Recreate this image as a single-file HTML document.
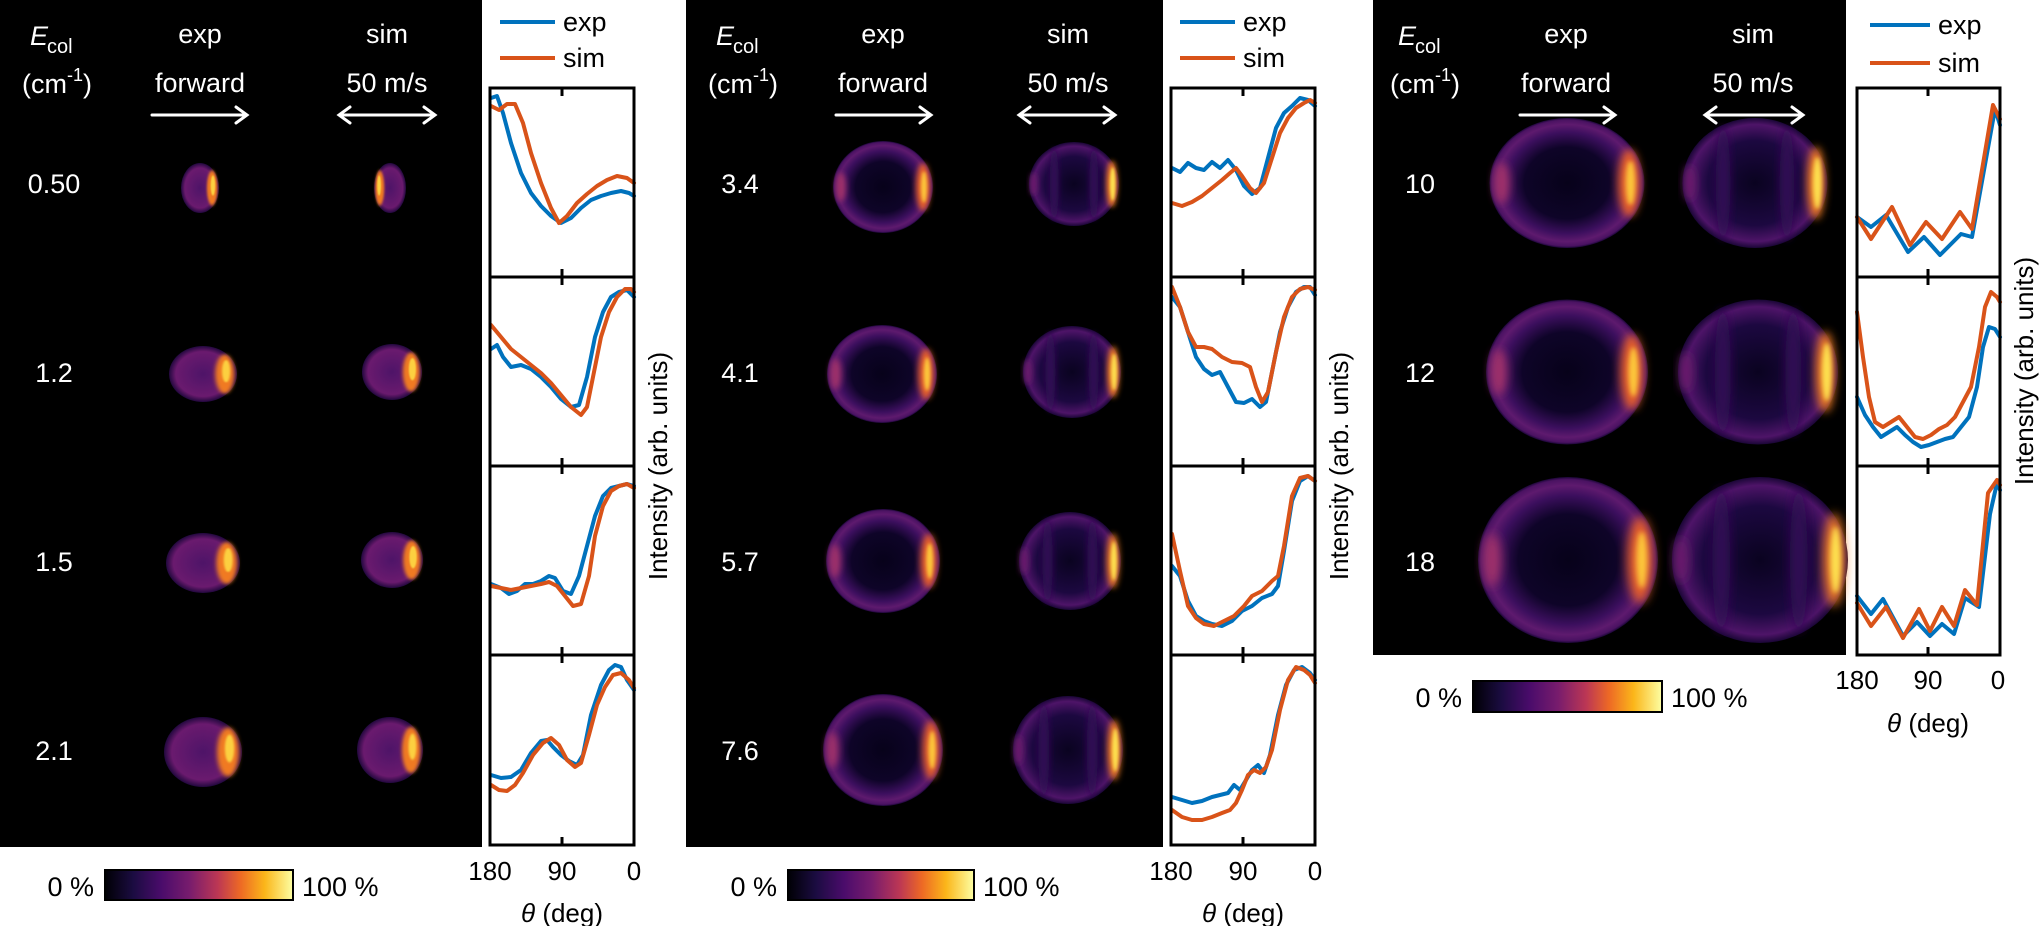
<!DOCTYPE html>
<html><head><meta charset="utf-8"><style>
html,body{margin:0;padding:0;background:#fff;}
svg{display:block;}
text{font-family:"Liberation Sans",sans-serif;}
</style></head><body>
<svg width="2041" height="926" viewBox="0 0 2041 926" xmlns="http://www.w3.org/2000/svg">
<defs>
<linearGradient id="inf" x1="0" x2="1" y1="0" y2="0">
<stop offset="0" stop-color="#000004"/><stop offset="0.15" stop-color="#1b0c41"/><stop offset="0.3" stop-color="#4a0c6b"/><stop offset="0.45" stop-color="#781c6d"/><stop offset="0.6" stop-color="#bc3754"/><stop offset="0.72" stop-color="#ed6925"/><stop offset="0.85" stop-color="#fbb61a"/><stop offset="1" stop-color="#fcffa4"/>
</linearGradient>
<radialGradient id="ring"><stop offset="0" stop-color="#07021a"/><stop offset="0.55" stop-color="#0e0428"/><stop offset="0.78" stop-color="#3c0f5e"/><stop offset="0.9" stop-color="#5e1a6e"/><stop offset="0.97" stop-color="#4a1262"/><stop offset="1" stop-color="#1a0636"/></radialGradient>
<radialGradient id="ringS"><stop offset="0" stop-color="#0a0320"/><stop offset="0.65" stop-color="#1c0840"/><stop offset="0.9" stop-color="#4e1468"/><stop offset="1" stop-color="#1a0636"/></radialGradient>
<radialGradient id="small"><stop offset="0" stop-color="#4e1468"/><stop offset="0.8" stop-color="#6a1a6e"/><stop offset="1" stop-color="#22083e"/></radialGradient>
<filter id="b3" x="-50%" y="-50%" width="200%" height="200%"><feGaussianBlur stdDeviation="3"/></filter>
<filter id="b2" x="-50%" y="-50%" width="200%" height="200%"><feGaussianBlur stdDeviation="1.5"/></filter>
<g id="bExp">
<ellipse cx="0" cy="0" rx="50" ry="50" fill="url(#ring)"/>
<ellipse cx="-42" cy="0" rx="5" ry="16" fill="#a0306a" filter="url(#b3)"/>
<ellipse cx="40" cy="0" rx="7" ry="26" fill="#e8602a" filter="url(#b3)"/>
<ellipse cx="41" cy="0" rx="3" ry="17" fill="#fcc63a" filter="url(#b2)"/>
</g>
<g id="bSim">
<ellipse cx="0" cy="0" rx="50" ry="50" fill="url(#ringS)"/>
<ellipse cx="-22" cy="0" rx="5" ry="44" fill="#300c55" filter="url(#b3)"/>
<ellipse cx="22" cy="0" rx="5" ry="44" fill="#300c55" filter="url(#b3)"/>
<ellipse cx="-45" cy="0" rx="4" ry="14" fill="#6a1e6c" filter="url(#b3)"/>
<ellipse cx="42" cy="0" rx="6" ry="28" fill="#f07a20" filter="url(#b3)"/>
<ellipse cx="43" cy="0" rx="3" ry="20" fill="#fde050" filter="url(#b2)"/>
</g>
<g id="bSmall">
<ellipse cx="0" cy="0" rx="50" ry="50" fill="url(#small)"/>
<ellipse cx="32" cy="0" rx="14" ry="35" fill="#f07a20" filter="url(#b3)"/>
<ellipse cx="34" cy="-5" rx="6" ry="20" fill="#fcd040" filter="url(#b2)"/>
</g>
</defs>

<rect x="0" y="0" width="482" height="847" fill="#000"/>
<rect x="686" y="0" width="477" height="847" fill="#000"/>
<rect x="1373" y="0" width="473" height="655" fill="#000"/>

<g fill="#fff" font-size="27">
<text x="30" y="45" font-style="italic">E</text><text x="47" y="53" font-size="20">col</text>
<text x="22" y="93">(cm<tspan font-size="18" dy="-12">-1</tspan><tspan dy="12">)</tspan></text>
<text x="200" y="43" text-anchor="middle">exp</text><text x="200" y="92" text-anchor="middle">forward</text>
<text x="387" y="43" text-anchor="middle">sim</text><text x="387" y="92" text-anchor="middle">50 m/s</text>

<text x="716" y="45" font-style="italic">E</text><text x="733" y="53" font-size="20">col</text>
<text x="708" y="93">(cm<tspan font-size="18" dy="-12">-1</tspan><tspan dy="12">)</tspan></text>
<text x="883" y="43" text-anchor="middle">exp</text><text x="883" y="92" text-anchor="middle">forward</text>
<text x="1068" y="43" text-anchor="middle">sim</text><text x="1068" y="92" text-anchor="middle">50 m/s</text>

<text x="1398" y="45" font-style="italic">E</text><text x="1415" y="53" font-size="20">col</text>
<text x="1390" y="93">(cm<tspan font-size="18" dy="-12">-1</tspan><tspan dy="12">)</tspan></text>
<text x="1566" y="43" text-anchor="middle">exp</text><text x="1566" y="92" text-anchor="middle">forward</text>
<text x="1753" y="43" text-anchor="middle">sim</text><text x="1753" y="92" text-anchor="middle">50 m/s</text>

<text x="54" y="193" text-anchor="middle">0.50</text><text x="54" y="382" text-anchor="middle">1.2</text>
<text x="54" y="571" text-anchor="middle">1.5</text><text x="54" y="760" text-anchor="middle">2.1</text>
<text x="740" y="193" text-anchor="middle">3.4</text><text x="740" y="382" text-anchor="middle">4.1</text>
<text x="740" y="571" text-anchor="middle">5.7</text><text x="740" y="760" text-anchor="middle">7.6</text>
<text x="1420" y="193" text-anchor="middle">10</text><text x="1420" y="382" text-anchor="middle">12</text>
<text x="1420" y="571" text-anchor="middle">18</text>
</g>
<g stroke="#fff" stroke-width="3" fill="none" stroke-linecap="round">
<path d="M152 115 H246 M236 107 L247 115 L236 123"/>
<path d="M340 115 H434 M350 107 L339 115 L350 123 M424 107 L435 115 L424 123"/>
<path d="M836 115 H930 M920 107 L931 115 L920 123"/>
<path d="M1020 115 H1114 M1030 107 L1019 115 L1030 123 M1104 107 L1115 115 L1104 123"/>
<path d="M1520 115 H1614 M1604 107 L1615 115 L1604 123"/>
<path d="M1706 115 H1802 M1716 107 L1705 115 L1716 123 M1792 107 L1803 115 L1792 123"/>
</g>

<use href="#bSmall" transform="translate(200,188) scale(0.38,0.5)"/>
<use href="#bSmall" transform="translate(390,188) scale(-0.32,0.5)"/>
<use href="#bSmall" transform="translate(203,374) scale(0.68,0.56)"/>
<use href="#bSmall" transform="translate(392,372) scale(0.6,0.56)"/>
<use href="#bSmall" transform="translate(203,563) scale(0.74,0.6)"/>
<use href="#bSmall" transform="translate(392,560) scale(0.62,0.56)"/>
<use href="#bSmall" transform="translate(203,752) scale(0.78,0.7)"/>
<use href="#bSmall" transform="translate(390,750) scale(0.66,0.66)"/>

<use href="#bExp" transform="translate(883,187) scale(1.0,0.92)"/>
<use href="#bSim" transform="translate(1074,184) scale(0.9,0.84)"/>
<use href="#bExp" transform="translate(882,374) scale(1.1,0.98)"/>
<use href="#bSim" transform="translate(1072,372) scale(0.98,0.92)"/>
<use href="#bExp" transform="translate(883,561) scale(1.14,1.04)"/>
<use href="#bSim" transform="translate(1070,561) scale(1.02,0.98)"/>
<use href="#bExp" transform="translate(883,750) scale(1.2,1.12)"/>
<use href="#bSim" transform="translate(1068,750) scale(1.1,1.08)"/>

<use href="#bExp" transform="translate(1567,183) scale(1.55,1.3)"/>
<use href="#bSim" transform="translate(1755,183) scale(1.45,1.3)"/>
<use href="#bExp" transform="translate(1567,372) scale(1.62,1.45)"/>
<use href="#bSim" transform="translate(1758,372) scale(1.6,1.45)"/>
<use href="#bExp" transform="translate(1568,560) scale(1.8,1.66)"/>
<use href="#bSim" transform="translate(1760,560) scale(1.76,1.66)"/>

<g stroke-width="4">
<line x1="500" y1="22" x2="555" y2="22" stroke="#0072BD"/><line x1="500" y1="58" x2="555" y2="58" stroke="#D95319"/>
<line x1="1180" y1="22" x2="1235" y2="22" stroke="#0072BD"/><line x1="1180" y1="58" x2="1235" y2="58" stroke="#D95319"/>
<line x1="1870" y1="25" x2="1930" y2="25" stroke="#0072BD"/><line x1="1870" y1="63" x2="1930" y2="63" stroke="#D95319"/>
</g>
<g font-size="27" fill="#000">
<text x="563" y="31">exp</text><text x="563" y="67">sim</text>
<text x="1243" y="31">exp</text><text x="1243" y="67">sim</text>
<text x="1938" y="34">exp</text><text x="1938" y="72">sim</text>
</g>

<g fill="none" stroke-width="4" stroke-linejoin="round" stroke-linecap="round">
<g transform="translate(491,88)">
<polyline stroke="#0072BD" points="0,10 6,8 12,25 20,55 30,85 40,105 50,118 60,128 70,135 80,130 90,120 100,112 110,108 120,105 130,103 138,105 143,108"/>
<polyline stroke="#D95319" points="0,18 8,22 16,16 24,16 32,35 40,65 50,95 60,120 68,135 76,128 86,115 96,106 106,98 116,92 126,88 136,90 143,95"/>
</g>
<g transform="translate(491,277)">
<polyline stroke="#0072BD" points="0,72 6,68 12,80 20,90 30,88 40,92 50,100 60,110 70,122 80,130 88,128 96,100 104,60 112,35 120,20 128,15 136,13 143,20"/>
<polyline stroke="#D95319" points="0,48 10,60 20,72 30,80 40,88 50,96 60,106 70,118 80,130 90,138 96,130 102,100 110,60 118,35 126,20 134,12 140,12 143,15"/>
</g>
<g transform="translate(491,466)">
<polyline stroke="#0072BD" points="0,118 10,122 18,128 26,125 34,118 42,118 50,115 58,110 64,112 72,125 80,128 88,110 96,80 104,50 112,30 120,22 128,20 136,18 143,20"/>
<polyline stroke="#D95319" points="0,120 10,122 20,124 30,122 40,120 50,118 58,116 66,120 74,130 82,140 90,138 98,110 104,70 112,40 120,25 128,20 136,18 143,22"/>
</g>
<g transform="translate(491,655)">
<polyline stroke="#0072BD" points="0,120 10,123 20,122 30,115 40,98 50,86 56,85 62,92 70,100 78,106 86,110 92,100 100,60 110,30 118,15 124,10 130,12 136,25 143,35"/>
<polyline stroke="#D95319" points="0,130 8,135 16,136 24,130 32,118 42,100 52,88 60,83 68,90 76,105 84,112 90,108 98,80 106,50 114,32 122,20 130,18 138,25 143,33"/>
</g>
<g transform="translate(1172,88)">
<polyline stroke="#0072BD" points="0,80 8,84 16,75 24,80 32,82 40,74 48,80 56,72 64,82 72,98 80,106 88,100 96,70 104,40 112,25 120,18 128,10 136,12 143,18"/>
<polyline stroke="#D95319" points="0,115 10,118 20,114 30,108 40,100 50,92 58,85 64,80 70,88 78,100 84,105 92,95 100,70 108,45 116,30 124,20 132,15 138,12 143,15"/>
</g>
<g transform="translate(1172,277)">
<polyline stroke="#0072BD" points="0,20 8,30 16,55 24,80 32,92 40,98 48,95 56,110 64,125 72,126 80,122 88,130 94,125 100,95 108,55 116,30 124,15 132,10 138,10 143,18"/>
<polyline stroke="#D95319" points="0,10 8,30 16,55 24,70 32,70 40,72 50,80 60,85 70,86 78,90 84,110 90,125 96,115 104,75 112,40 120,20 128,12 136,10 143,13"/>
</g>
<g transform="translate(1172,466)">
<polyline stroke="#0072BD" points="0,100 8,110 16,135 24,150 32,155 40,158 50,160 60,155 70,145 80,140 90,132 100,128 106,120 112,85 120,35 128,15 136,10 143,15"/>
<polyline stroke="#D95319" points="0,68 8,105 16,140 24,152 32,158 42,160 52,155 62,150 72,140 80,130 90,125 100,115 106,110 112,80 120,30 128,12 136,10 143,15"/>
</g>
<g transform="translate(1172,655)">
<polyline stroke="#0072BD" points="0,142 10,145 20,148 30,146 40,142 48,140 56,138 62,130 68,135 74,125 80,115 86,110 92,118 98,100 106,60 114,30 122,15 130,12 138,18 143,25"/>
<polyline stroke="#D95319" points="0,155 10,162 20,165 30,165 40,162 50,158 58,155 64,148 70,135 76,120 82,115 88,118 94,112 100,95 108,55 116,25 124,12 132,15 138,20 143,28"/>
</g>
<g transform="translate(1857,88)">
<polyline stroke="#0072BD" points="0,129 14,139 29,127 51,164 67,149 83,167 104,146 115,149 138,21 143,37"/>
<polyline stroke="#D95319" points="0,129 14,151 35,119 53,157 69,134 85,151 103,124 115,141 136,17 143,31"/>
</g>
<g transform="translate(1857,277)">
<polyline stroke="#0072BD" points="0,120 8,138 16,150 24,160 32,155 40,150 48,158 56,165 64,170 72,168 80,165 88,162 96,160 104,150 112,140 120,110 126,70 132,50 138,52 143,60"/>
<polyline stroke="#D95319" points="0,35 6,80 12,120 18,145 26,150 34,145 42,140 50,150 58,160 66,162 74,158 82,152 90,148 98,140 106,125 114,110 122,70 128,30 134,15 140,20 143,25"/>
</g>
<g transform="translate(1857,466)">
<polyline stroke="#0072BD" points="0,130 14,148 26,133 46,170 60,156 73,170 85,158 97,168 108,132 122,141 133,48 140,17 143,24"/>
<polyline stroke="#D95319" points="0,137 14,160 29,141 46,172 62,143 73,165 85,141 97,160 108,124 120,139 131,27 140,14 143,19"/>
</g>
</g>

<g fill="none" stroke="#000" stroke-width="3">
<rect x="490" y="88" width="144" height="757"/>
<line x1="490" y1="277" x2="634" y2="277"/><line x1="490" y1="466" x2="634" y2="466"/><line x1="490" y1="655" x2="634" y2="655"/>
<rect x="1171" y="88" width="144" height="757"/>
<line x1="1171" y1="277" x2="1315" y2="277"/><line x1="1171" y1="466" x2="1315" y2="466"/><line x1="1171" y1="655" x2="1315" y2="655"/>
<rect x="1857" y="88" width="143" height="567"/>
<line x1="1857" y1="277" x2="2000" y2="277"/><line x1="1857" y1="466" x2="2000" y2="466"/>
</g>
<g stroke="#000" stroke-width="3">
<path d="M562 88v8M562 277v-8M562 277v8M562 466v-8M562 466v8M562 655v-8M562 655v8M562 845v-8"/>
<path d="M1243 88v8M1243 277v-8M1243 277v8M1243 466v-8M1243 466v8M1243 655v-8M1243 655v8M1243 845v-8"/>
<path d="M1928 88v8M1928 277v-8M1928 277v8M1928 466v-8M1928 466v8M1928 655v-8"/>
</g>

<g font-size="26" fill="#000" text-anchor="middle">
<text x="490" y="880">180</text><text x="562" y="880">90</text><text x="634" y="880">0</text>
<text x="1171" y="880">180</text><text x="1243" y="880">90</text><text x="1315" y="880">0</text>
<text x="1857" y="689">180</text><text x="1928" y="689">90</text><text x="1998" y="689">0</text>
<text x="562" y="922"><tspan font-style="italic">θ</tspan> (deg)</text>
<text x="1243" y="922"><tspan font-style="italic">θ</tspan> (deg)</text>
<text x="1928" y="732"><tspan font-style="italic">θ</tspan> (deg)</text>
</g>
<g font-size="26" fill="#000" text-anchor="middle">
<text transform="translate(667,466) rotate(-90)">Intensity (arb. units)</text>
<text transform="translate(1348,466) rotate(-90)">Intensity (arb. units)</text>
<text transform="translate(2033,371) rotate(-90)">Intensity (arb. units)</text>
</g>

<rect x="105" y="870" width="188" height="30" fill="url(#inf)" stroke="#000" stroke-width="2"/>
<rect x="788" y="870" width="186" height="30" fill="url(#inf)" stroke="#000" stroke-width="2"/>
<rect x="1473" y="681" width="189" height="31" fill="url(#inf)" stroke="#000" stroke-width="2"/>
<g font-size="27" fill="#000">
<text x="94" y="896" text-anchor="end">0 %</text><text x="302" y="896">100 %</text>
<text x="777" y="896" text-anchor="end">0 %</text><text x="983" y="896">100 %</text>
<text x="1462" y="707" text-anchor="end">0 %</text><text x="1671" y="707">100 %</text>
</g>
</svg>
</body></html>
